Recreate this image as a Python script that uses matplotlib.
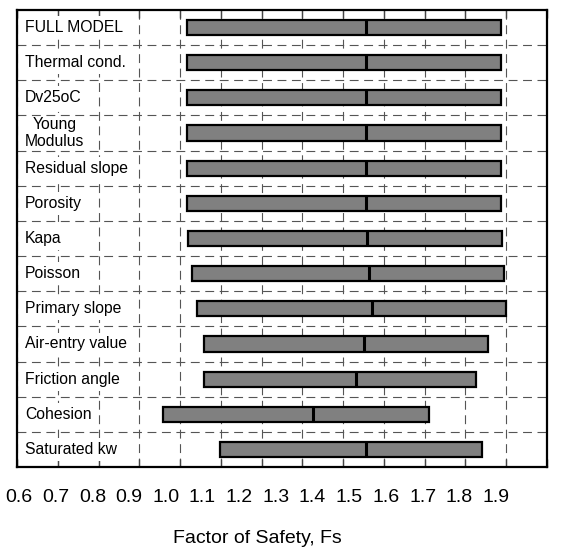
import matplotlib
matplotlib.use('Agg')
import numpy as np
import matplotlib.pyplot as plt

plt.rcParams['font.family'] = ['Liberation Sans', 'DejaVu Sans']

# Fs range per parameter: lower bound, mean, upper bound
params = ['FULL MODEL', 'Thermal cond.', 'Dv25oC', 'Young\nModulus', 'Residual slope',
          'Porosity', 'Kapa', 'Poisson', 'Primary slope', 'Air-entry value',
          'Friction angle', 'Cohesion', 'Saturated kw']
fs_low = [1.017, 1.017, 1.017, 1.017, 1.017, 1.017, 1.020, 1.030, 1.041, 1.059, 1.059, 0.959, 1.098]
fs_mean = [1.456, 1.456, 1.456, 1.456, 1.456, 1.456, 1.458, 1.464, 1.471, 1.451, 1.431, 1.327, 1.456]
fs_high = [1.786, 1.786, 1.786, 1.786, 1.786, 1.786, 1.789, 1.795, 1.799, 1.756, 1.725, 1.611, 1.741]
fs_ticks = np.round(np.arange(0.6, 1.95, 0.1), 1)

fig = plt.figure(figsize=(5.72, 5.49), dpi=100)
ax = fig.add_axes([17/572, 82/549, 530/572, 457/549])

y = np.arange(len(params))
bar_h = 0.43
low = np.array(fs_low); high = np.array(fs_high)
ax.barh(y, high - low, left=low, height=bar_h, color='#808080',
        edgecolor='black', linewidth=1.6, zorder=3)
ax.vlines(fs_mean, y - bar_h/2, y + bar_h/2, color='black', linewidth=2.2, zorder=4)

ax.set_xlim(0.6, 1.9)
ax.set_ylim(len(params) - 0.5, -0.5)
ax.set_xticks(fs_ticks)
ax.set_yticks([])
ax.tick_params(axis='x', direction='in', length=6, width=1, color='#444444',
               top=True, labelbottom=False)
ax.grid(axis='x', linestyle=(0, (8, 5)), color='#555555', linewidth=0.8, zorder=0.5)
ax.set_axisbelow(True)
for b in y[:-1] + 0.5:
    ax.axhline(b, linestyle=(0, (8, 5)), color='#555555', linewidth=0.8, zorder=2.5)
for s in ax.spines.values():
    s.set_linewidth(1.6)

for yi, name in zip(y, params):
    ax.text(0.015, yi, name, transform=ax.get_yaxis_transform(), ha='left', va='center',
            multialignment='center', fontsize=11.3, zorder=2,
            bbox=dict(boxstyle='square,pad=0.25', facecolor='white', edgecolor='none'))

# separate scale row for the Fs labels
ax2 = fig.add_axes([19/572, 62/549, 477/572, 0.001], frameon=False)
ax2.set_xlim(0.6, 1.9)
ax2.set_yticks([])
ax2.set_xticks(fs_ticks)
ax2.set_xticklabels([f'{t:.1f}' for t in fs_ticks], fontsize=14)
ax2.tick_params(axis='x', length=0, pad=1.5)
ax2.set_xlabel('Factor of Safety, Fs', fontsize=14, labelpad=17.5)

plt.savefig('out.png', dpi=100)
plt.close()
